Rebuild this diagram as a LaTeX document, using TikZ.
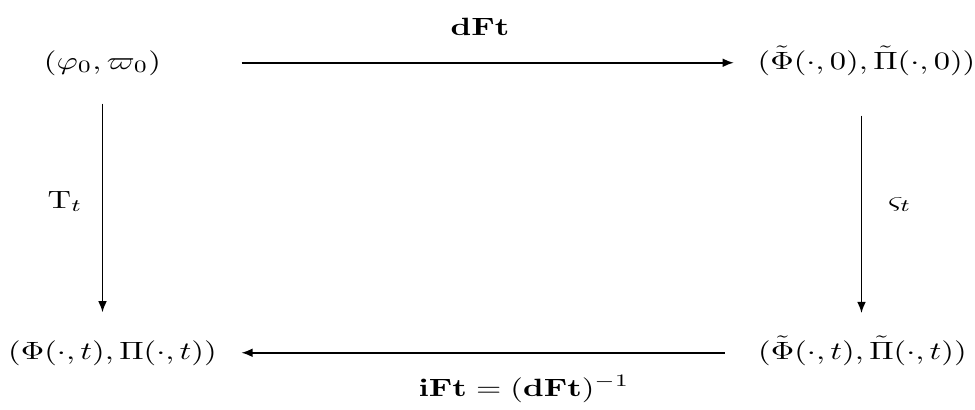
\documentclass[tikz,border=0pt]{standalone}
\usepackage{amsmath,amssymb}
\usepackage{tikz}
\usetikzlibrary{arrows.meta,positioning}
\newcommand{\stretchx}[1]{\scalebox{1.3}[1]{#1}}

\begin{document}
\begin{tikzpicture}[
    x=0.4pt, y=-0.4pt,
    obj/.style={anchor=base},
    arr/.style={-{Latex[length=4.5pt,width=3.5pt]}, line width=0.7pt}
]
    \useasboundingbox (0,0) rectangle (975,409);

    % Top row
    \node[obj] (tl) at (102.5, 69) {\stretchx{$(\varphi_0,\varpi_0)$}};
    \node[obj] (tr) at (866.5, 69) {\stretchx{$(\tilde\Phi(\cdot,0),\tilde\Pi(\cdot,0))$}};
    \draw[arr, shorten <=28.7pt, shorten >=6pt] (tl.east) -- (tl.east -| tr.west);
    \node[obj] (dft) at (480, 35) {\stretchx{$\mathbf{dFt}$}};

    % Bottom row
    \node[obj] (bl) at (112.5, 359) {\stretchx{$(\Phi(\cdot,t),\Pi(\cdot,t))$}};
    \node[obj] (br) at (862.5, 359) {\stretchx{$(\tilde\Phi(\cdot,t),\tilde\Pi(\cdot,t))$}};
    \draw[arr, shorten <=9.9pt, shorten >=6.3pt] (bl.east -| br.west) -- (bl.east);
    \node[obj] (ift) at (524, 396) {\stretchx{$\mathbf{iFt}=(\mathbf{dFt})^{-1}$}};

    % Verticals
    \draw[arr, shorten <=7.8pt, shorten >=7.6pt] (tl.south) -- (tl.south |- bl.north);
    \node[obj] (tt) at (65, 208) {\stretchx{$\mathrm{T}_t$}};
    \draw[arr, shorten <=12.6pt, shorten >=5.6pt] ([xshift=-2pt]tr.south) -- ([xshift=-2pt]tr.south |- br.north);
    \node[obj] (st) at (900, 208) {\stretchx{$\varsigma_t$}};
\end{tikzpicture}
\end{document}
